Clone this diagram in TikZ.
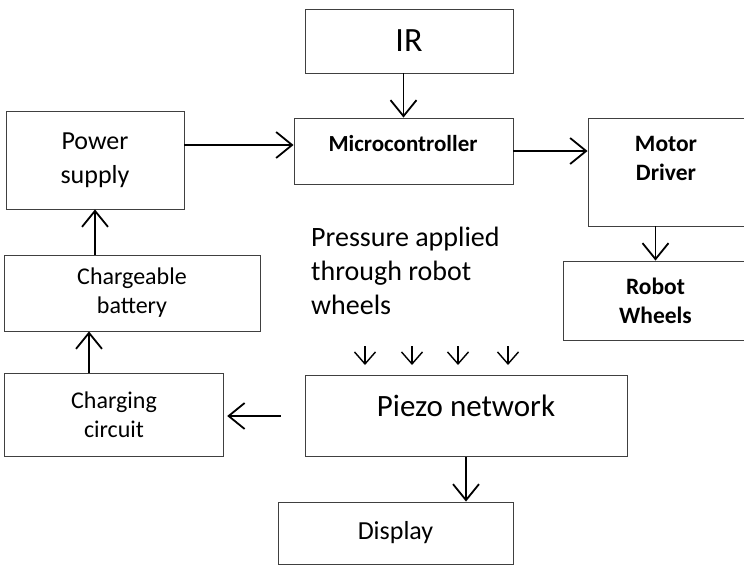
\documentclass[tikz,border=0pt]{standalone}
\usepackage{fontspec}
\setmainfont{Carlito}
\usetikzlibrary{arrows.meta,positioning}

\begin{document}
\begin{tikzpicture}[x=1pt,y=-1pt,
  box/.style={draw=black!75,line width=0.9pt,rectangle,inner sep=0pt,align=center},
  txt/.style={inner sep=0pt,align=center},
  arr/.style={-{Straight Barb[length=16pt,width=26pt]},line width=1.8pt},
  parr/.style={-{Straight Barb[length=12pt,width=21pt]},line width=1.4pt}]
\useasboundingbox (0,0) rectangle (744,565);
\clip (0,0) rectangle (744,565);

%Boxes
\node[box,minimum width=208pt,minimum height=64pt,font=\fontsize{34}{40}\selectfont] (ir) at (409,41) {IR};
\node[box,minimum width=219pt,minimum height=66pt] (mcu) at (403.5,151) {};
\node[box,minimum width=178pt,minimum height=98pt,font=\fontsize{26}{34}\selectfont] (power) at (95,160) {Power\\supply};
\node[box,minimum width=160pt,minimum height=108pt] (motor) at (668,172) {};
\node[box,minimum width=185pt,minimum height=79pt,font=\fontsize{23.5}{29}\selectfont\bfseries] (wheels) at (655.5,300.5) {Robot\\Wheels};
\node[box,minimum width=256pt,minimum height=76pt,font=\fontsize{24}{29}\selectfont] (battery) at (132,293) {Chargeable\\battery};
\node[box,minimum width=219.5pt,minimum height=82.5pt,font=\fontsize{24}{29}\selectfont] (charger) at (114,415) {Charging\\circuit};
\node[box,minimum width=322pt,minimum height=81.5pt] (piezo) at (466,416) {};
\node[box,minimum width=235pt,minimum height=62pt,font=\fontsize{26}{32}\selectfont] (display) at (395.5,533) {Display};

%Texts placed near the top of their boxes
\node[txt,font=\fontsize{23}{29}\selectfont\bfseries] (mcu-txt) at (403,144) {Microcontroller};
\node[txt,font=\fontsize{23.5}{29}\selectfont\bfseries] (motor-txt) at (666,158.5) {Motor\\Driver};
\node[txt,font=\fontsize{31}{37}\selectfont] (piezo-txt) at (466,406) {Piezo network};
\node[txt,align=left,anchor=west,font=\fontsize{28}{34}\selectfont] (pressure) at (311,271) {Pressure applied\\through robot\\wheels};

%Connectors
\draw[arr] (power.east |- 0,145) -- (mcu.west |- 0,145);
\draw[arr] (mcu.east) -- (motor.west |- mcu.east);
\draw[arr] (mcu.north |- ir.south) -- (mcu.north);
\draw[arr] (wheels.north |- motor.south) -- (wheels.north);
\draw[arr] (power.south |- battery.north) -- (power.south);
\draw[arr] (charger.north -| 89,0) -- (battery.south -| 89,0);
\draw[arr] ([xshift=-24pt]piezo.west) -- ([xshift=3pt]charger.east |- piezo.west);
\draw[arr] (piezo.south) -- (piezo.south |- display.north);
\foreach \x in {365,412,458,508}
  \draw[parr] (\x,346) -- (\x,365);

\end{tikzpicture}
\end{document}
